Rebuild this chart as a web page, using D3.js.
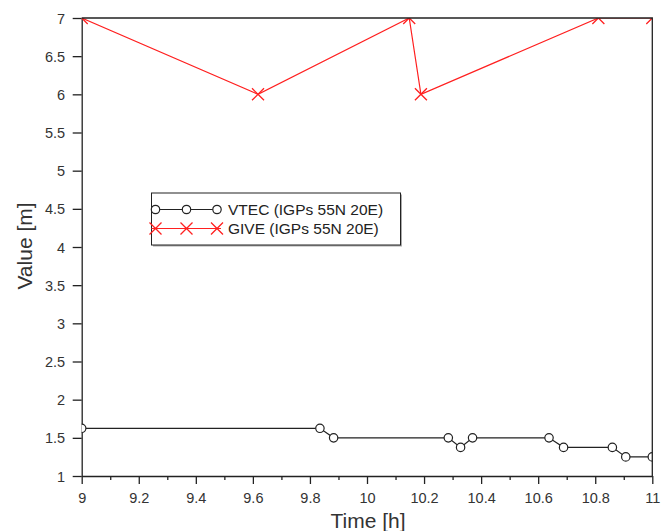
<!doctype html>
<html>
  <head>
    <script src="https://d3js.org/d3.v7.min.js" charset="utf-8"></script>
    <style>
      body { margin: 0; background: #fff; }
      text { font-family: "Liberation Sans", Arial, sans-serif; }
    </style>
  </head>
  <body>
    <script>

// data
var vtecTime = [9.0, 9.835, 9.883, 10.285, 10.328, 10.370, 10.638, 10.689, 10.860, 10.907, 11.0];
var vtecValue = [1.625, 1.625, 1.5, 1.5, 1.375, 1.5, 1.5, 1.375, 1.375, 1.25, 1.25];
var giveTime = [9.0, 9.618, 10.148, 10.189, 10.811, 11.0];
var giveValue = [7, 6, 7, 6, 7, 7];
var xTicks = [9, 9.2, 9.4, 9.6, 9.8, 10, 10.2, 10.4, 10.6, 10.8, 11];
var xMinorTicks = [9.1, 9.3, 9.5, 9.7, 9.9, 10.1, 10.3, 10.5, 10.7, 10.9];
var yTicks = [1, 1.5, 2, 2.5, 3, 3.5, 4, 4.5, 5, 5.5, 6, 6.5, 7];
var legendLabels = ["VTEC (IGPs 55N 20E)", "GIVE (IGPs 55N 20E)"];

var width = 662, height = 531;
// plot box (named so they don't clash with window.top)
var pLeft = 81.7, pRight = 652.3, pTop = 18, pBottom = 476;

var svg = d3.select("body")
  .append("svg")
    .attr("width", width)
    .attr("height", height);

var x = d3.scaleLinear().domain([9, 11]).range([pLeft, pRight]);
var y = d3.scaleLinear().domain([1, 7]).range([pBottom, pTop]);

// clip for the data
svg.append("clipPath")
    .attr("id", "plotclip")
  .append("rect")
    .attr("x", pLeft)
    .attr("y", pTop)
    .attr("width", pRight - pLeft)
    .attr("height", pBottom - pTop);

// x axis
var xAxis = svg.append("g")
    .attr("transform", "translate(0," + pBottom + ")")
    .call(d3.axisBottom(x).tickValues(xTicks).tickSize(8).tickSizeOuter(0)
      .tickFormat(function(d) { return String(+d.toFixed(1)); }));
xAxis.selectAll("text")
    .attr("font-size", 14.5)
    .attr("fill", "#333")
    .attr("y", 27)
    .attr("dy", 0);
svg.append("g")
    .attr("transform", "translate(0," + pBottom + ")")
    .call(d3.axisBottom(x).tickValues(xMinorTicks).tickSize(4).tickSizeOuter(0).tickFormat(""))
    .select(".domain").remove();

// y axis
var yAxis = svg.append("g")
    .attr("transform", "translate(" + pLeft + ",0)")
    .call(d3.axisLeft(y).tickValues(yTicks).tickSize(9).tickSizeOuter(0).tickFormat(function(d) { return String(d); }));
yAxis.selectAll("text")
    .attr("font-size", 14.5)
    .attr("fill", "#333")
    .attr("x", -16.5)
    .attr("dy", "0.35em");

svg.selectAll(".domain, .tick line")
    .attr("stroke", "#222")
    .attr("stroke-width", 1.3);

// data
var plot = svg.append("g").attr("clip-path", "url(#plotclip)");

var line = d3.line()
  .x(function(d) { return x(d[0]); })
  .y(function(d) { return y(d[1]); });

var vtec = d3.zip(vtecTime, vtecValue);
var give = d3.zip(giveTime, giveValue);

function cross(g, cx, cy, s) {
  g.append("path")
    .attr("d", "M" + (cx - s) + "," + (cy - s) + "L" + (cx + s) + "," + (cy + s) +
               "M" + (cx - s) + "," + (cy + s) + "L" + (cx + s) + "," + (cy - s))
    .attr("stroke", "#ff2020")
    .attr("stroke-width", 1.3)
    .attr("fill", "none");
}

plot.append("path")
    .datum(give)
    .attr("d", line)
    .attr("fill", "none")
    .attr("stroke", "#ff2020")
    .attr("stroke-width", 1.2);

give.forEach(function(d) { cross(plot, x(d[0]), y(d[1]), 6); });

plot.append("path")
    .datum(vtec)
    .attr("d", line)
    .attr("fill", "none")
    .attr("stroke", "#222")
    .attr("stroke-width", 1.2);

plot.selectAll("circle.vtec")
  .data(vtec)
  .enter()
  .append("circle")
    .attr("class", "vtec")
    .attr("cx", function(d) { return x(d[0]); })
    .attr("cy", function(d) { return y(d[1]); })
    .attr("r", 4.2)
    .attr("fill", "#fff")
    .attr("stroke", "#222")
    .attr("stroke-width", 1.2);

// box (top and right edges)
svg.append("path")
    .attr("d", "M" + pLeft + "," + pTop + "H" + pRight + "V" + pBottom)
    .attr("fill", "none")
    .attr("stroke", "#222")
    .attr("stroke-width", 1.3);

// axis titles
svg.append("text")
    .attr("x", 368)
    .attr("y", 528)
    .attr("text-anchor", "middle")
    .attr("font-size", 21)
    .attr("fill", "#333")
    .text("Time [h]");

svg.append("text")
    .attr("transform", "translate(32,246) rotate(-90)")
    .attr("text-anchor", "middle")
    .attr("font-size", 21)
    .attr("fill", "#333")
    .text("Value [m]");

// legend
var lg = svg.append("g");
lg.append("rect")
    .attr("x", 153)
    .attr("y", 194.5)
    .attr("width", 249)
    .attr("height", 52)
    .attr("fill", "#aaa");
lg.append("rect")
    .attr("x", 151.5)
    .attr("y", 193)
    .attr("width", 249)
    .attr("height", 52)
    .attr("fill", "#fff")
    .attr("stroke", "#222")
    .attr("stroke-width", 1);

var rowY = [209.5, 228.5];
var sampleX = [155.5, 186.5, 217];

lg.append("line")
    .attr("x1", sampleX[0]).attr("x2", sampleX[2])
    .attr("y1", rowY[0]).attr("y2", rowY[0])
    .attr("stroke", "#222").attr("stroke-width", 1.2);
sampleX.forEach(function(sx) {
  lg.append("circle")
    .attr("cx", sx).attr("cy", rowY[0]).attr("r", 4.2)
    .attr("fill", "#fff").attr("stroke", "#222").attr("stroke-width", 1.2);
});

lg.append("line")
    .attr("x1", sampleX[0] - 4).attr("x2", sampleX[2] + 4)
    .attr("y1", rowY[1]).attr("y2", rowY[1])
    .attr("stroke", "#ff2020").attr("stroke-width", 1.2);
sampleX.forEach(function(sx) { cross(lg, sx, rowY[1], 6); });

lg.selectAll("text.lbl")
  .data(legendLabels)
  .enter()
  .append("text")
    .attr("class", "lbl")
    .attr("x", 228)
    .attr("y", function(d, i) { return rowY[i] + 5.5; })
    .attr("font-size", 15.5)
    .attr("fill", "#222")
    .text(function(d) { return d; });

    </script>
  </body>
</html>
